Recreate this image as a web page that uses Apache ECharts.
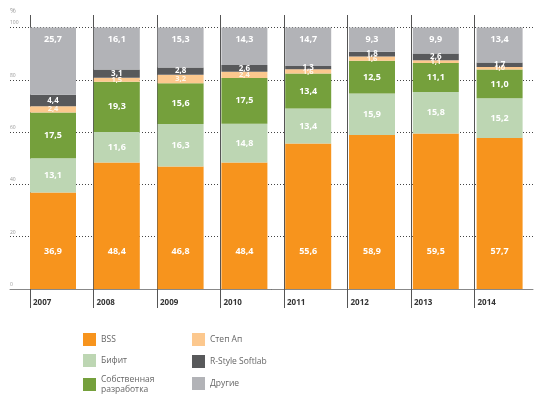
<!DOCTYPE html>
<html>
<head>
<meta charset="utf-8">
<script src="https://cdn.jsdelivr.net/npm/echarts@6/dist/echarts.min.js"></script>
<style>html,body{margin:0;padding:0;background:#fff}#c{width:541px;height:399px}</style>
</head>
<body>
<div id="c"></div>
<script>
var years = ['2007','2008','2009','2010','2011','2012','2013','2014'];
var yTicks = [0, 20, 40, 60, 80, 100];
var bss      = [36.9, 48.4, 46.8, 48.4, 55.6, 58.9, 59.5, 57.7];
var bifit    = [13.1, 11.6, 16.3, 14.8, 13.4, 15.9, 15.8, 15.2];
var own      = [17.5, 19.3, 15.6, 17.5, 13.4, 12.5, 11.1, 11.0];
var stepUp   = [2.4, 1.5, 3.2, 2.4, 1.6, 1.6, 1.1, 1.0];
var rstyle   = [4.4, 3.1, 2.8, 2.6, 1.3, 1.8, 2.6, 1.7];
var others   = [25.7, 16.1, 15.3, 14.3, 14.7, 9.3, 9.9, 13.4];

var names = ['BSS', 'Бифит', 'Собственная\nразработка', 'Степ Ап', 'R-Style Softlab', 'Другие'];
var colors = ['#F7941D', '#BDD6B3', '#75A03C', '#FCC88E', '#58595B', '#B2B3B7'];
var datasets = [bss, bifit, own, stepUp, rstyle, others];

function fmt(p) { return p.value.toFixed(1).replace('.', ','); }

var font = 'Open Sans';
var series = datasets.map(function (d, i) {
  var label = { show: true, formatter: fmt, color: '#fff', fontSize: 9, fontWeight: 'bold', fontFamily: font, position: 'inside' };
  if (i === 0) { label.position = 'insideBottom'; label.distance = 33; }
  if (i === 5) { label.position = 'insideTop'; label.distance = 7; }
  if (i === 3) { label.color = '#fff6e8'; label.fontSize = 7.5; }
  if (i === 4) { label.fontSize = 8; }
  return {
    name: names[i], type: 'bar', stack: 'total', xAxisIndex: 2, yAxisIndex: 2,
    barWidth: 46, data: d, itemStyle: { color: colors[i] }, label: label,
    emphasis: { disabled: true }
  };
});

var legendText = { fontSize: 8.5, color: '#666', fontFamily: font, lineHeight: 9.5 };
var chart = echarts.init(document.getElementById('c'), null, { renderer: 'canvas' });
chart.setOption({
  animation: false,
  grid: [
    { left: 10, right: 8, top: 27.5, bottom: 110 },
    { left: 30, width: 510.4, top: 15, bottom: 110 },
    { left: 21.1, width: 510.4, top: 27.5, bottom: 110 }
  ],
  legend: [
    { data: names.slice(0, 3), orient: 'vertical', left: 83, top: 333, height: 66, padding: 0, itemWidth: 13, itemHeight: 13, itemGap: 8,
      icon: 'rect', textStyle: legendText },
    { data: names.slice(3), orient: 'vertical', left: 192, top: 333, height: 66, padding: 0, itemWidth: 13, itemHeight: 13, itemGap: 9,
      icon: 'rect', textStyle: legendText }
  ],
  xAxis: [
    { gridIndex: 0, type: 'value', min: 0, max: 1, axisLine: { show: true, onZero: false, lineStyle: { color: '#888', width: 1 } },
      axisTick: { show: false }, axisLabel: { show: false }, splitLine: { show: false } },
    { gridIndex: 1, type: 'category', data: years.concat(['']), boundaryGap: false,
      axisLine: { show: false },
      axisTick: { show: true, length: 19, interval: function (i) { return i < years.length; }, lineStyle: { color: '#555' } },
      splitLine: { show: true, interval: function (i) { return i < years.length; }, lineStyle: { color: '#555', width: 1 } },
      axisLabel: { show: true, interval: 0, align: 'left', padding: [0, 0, 0, 3], margin: 10,
        fontSize: 8, fontWeight: 'bold', color: '#333', fontFamily: font } },
    { gridIndex: 2, type: 'category', data: years, show: false }
  ],
  yAxis: [
    { gridIndex: 0, type: 'value', min: yTicks[0], max: yTicks[yTicks.length - 1], interval: 20,
      name: '%', nameLocation: 'end', nameGap: 13, nameTextStyle: { align: 'left', fontSize: 7, color: '#999', fontFamily: font },
      axisLine: { show: false }, axisTick: { show: false },
      axisLabel: { inside: true, verticalAlign: 'bottom', margin: 0, fontSize: 5, color: '#999', fontFamily: font, padding: [0, 0, 2, 0] },
      splitLine: { show: true, lineStyle: { color: '#444', type: [1, 2], width: 1 } } },
    { gridIndex: 1, type: 'value', min: 0, max: 1, show: false },
    { gridIndex: 2, type: 'value', min: 0, max: 100, show: false }
  ],
  series: series
});
</script>
</body>
</html>
